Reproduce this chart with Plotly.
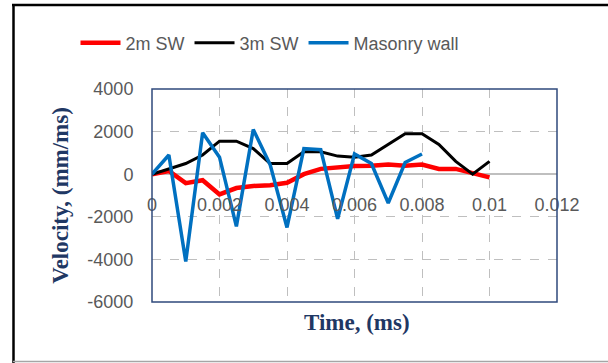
import plotly.graph_objects as go

# Data
time_2m = [0, 0.0005, 0.001, 0.0015, 0.002, 0.0025, 0.003, 0.0035, 0.004, 0.0045,
           0.005, 0.0055, 0.006, 0.0065, 0.007, 0.0075, 0.008, 0.0085, 0.009, 0.0095, 0.01]
vel_2m = [0, 150, -420, -280, -950, -650, -550, -520, -400, 0,
          250, 340, 380, 400, 450, 400, 450, 250, 250, 50, -150]

time_3m = time_2m
vel_3m = [0, 250, 500, 900, 1550, 1550, 1200, 500, 500, 1050,
          1050, 850, 800, 900, 1400, 1900, 1900, 1400, 600, 0, 600]

time_mas = [0, 0.0005, 0.001, 0.0015, 0.002, 0.0025, 0.003, 0.0035, 0.004, 0.0045,
            0.005, 0.0055, 0.006, 0.0065, 0.007, 0.0075, 0.008]
vel_mas = [0, 900, -4100, 1950, 800, -2450, 2100, 450, -2500, 1200,
           1150, -2100, 950, 500, -1350, 550, 950]

series_names = ["2m SW", "3m SW", "Masonry wall"]
series_colors = ["#FF0000", "#000000", "#0070C0"]

x_ticks = [0, 0.002, 0.004, 0.006, 0.008, 0.01, 0.012]
x_tick_labels = ["0", "0.002", "0.004", "0.006", "0.008", "0.01", "0.012"]
y_ticks = [4000, 2000, 0, -2000, -4000, -6000]
y_tick_labels = ["4000", "2000", "0", "-2000", "-4000", "-6000"]

W, H = 608, 363
L, R, T, B = 152, 51, 89, 61
pw, ph = W - L - R, H - T - B

def px(xp):
    return (xp - L) / pw

def py(yp):
    return (H - B - yp) / ph

fig = go.Figure()
for t, v, name, col, lw in [(time_2m, vel_2m, series_names[0], series_colors[0], 4.5),
                            (time_3m, vel_3m, series_names[1], series_colors[1], 3),
                            (time_mas, vel_mas, series_names[2], series_colors[2], 3.5)]:
    fig.add_trace(go.Scatter(x=t, y=v, mode="lines", name=name,
                             line=dict(color=col, width=lw)))

tick_font = dict(family="Liberation Sans", size=18, color="#595959")
title_font = dict(family="Liberation Serif", size=23, color="#1F3864")

fig.update_layout(
    width=W, height=H,
    margin=dict(l=L, r=R, t=T, b=B),
    paper_bgcolor="white", plot_bgcolor="white",
    showlegend=True,
    legend=dict(orientation="h", x=px(270), xanchor="center", y=py(43), yanchor="middle",
                font=dict(family="Liberation Sans", size=18, color="#595959"),
                itemwidth=40, tracegroupgap=0, bgcolor="rgba(0,0,0,0)"),
    xaxis=dict(range=[0, 0.012], tickvals=x_ticks, ticktext=x_tick_labels,
               showgrid=True, gridcolor="#BFBFBF", griddash="dash", gridwidth=1,
               showline=False, zeroline=False, anchor="free", position=0.6,
               ticks="outside", ticklen=14, tickcolor="rgba(0,0,0,0)",
               tickfont=tick_font, fixedrange=True),
    yaxis=dict(range=[-6000, 4000], tickvals=y_ticks, ticktext=y_tick_labels,
               showgrid=True, gridcolor="#BFBFBF", griddash="dash", gridwidth=1,
               zeroline=True, zerolinecolor="#BFBFBF", zerolinewidth=1.5,
               showline=False, ticks="outside", ticklen=14, tickcolor="rgba(0,0,0,0)",
               tickfont=tick_font,
               title=dict(text="<b>Velocity, (mm/ms)</b>", font=title_font, standoff=12)),
)

# plot area border
fig.add_shape(type="rect", xref="paper", yref="paper", x0=0, y0=0, x1=1, y1=1,
              line=dict(color="#2F4A7C", width=1.5))
# outer frame lines
fig.add_shape(type="line", xref="paper", yref="paper", x0=px(12), x1=px(608), y0=py(5), y1=py(5),
              line=dict(color="black", width=2.5))
fig.add_shape(type="line", xref="paper", yref="paper", x0=px(13.5), x1=px(13.5), y0=py(5), y1=py(363),
              line=dict(color="black", width=2.5))
fig.add_shape(type="line", xref="paper", yref="paper", x0=px(13), x1=px(608), y0=py(361.5), y1=py(361.5),
              line=dict(color="#A6A6A6", width=1.5))

fig.add_annotation(text="<b>Time, (ms)</b>", xref="paper", yref="paper",
                   x=px(357), y=py(322), xanchor="center", yanchor="middle",
                   showarrow=False, font=title_font)

fig.write_html("out.html", config={"displayModeBar": False},
               post_script="document.body.style.margin='0px';document.body.style.overflow='hidden';")
